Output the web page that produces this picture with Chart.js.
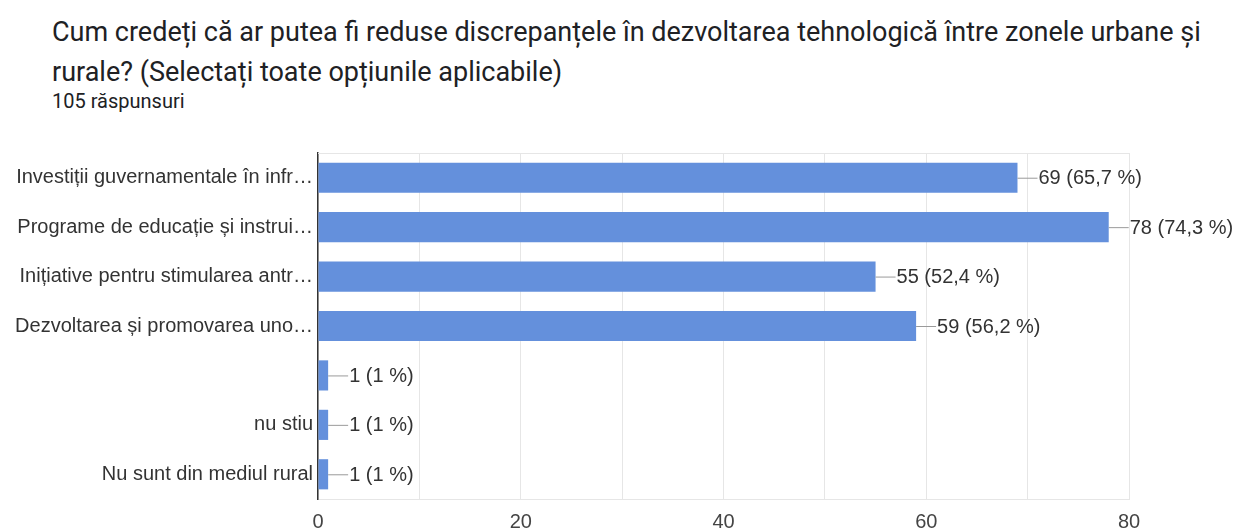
<!DOCTYPE html>
<html lang="ro">
<head>
<meta charset="utf-8">
<script src="https://cdn.jsdelivr.net/npm/chart.js@4.4.1/dist/chart.umd.min.js"></script>
<style>
  html, body { margin: 0; padding: 0; background: #fff; }
  #wrap { position: relative; width: 1235px; height: 529px; overflow: hidden; }
  #title {
    position: absolute; left: 52px; top: 12px; width: 1180px; white-space: nowrap;
    font-family: Roboto, "Noto Sans", sans-serif; font-size: 27px; line-height: 40px;
    color: #202124; margin: 0; font-weight: 400;
  }
  #sub {
    position: absolute; left: 52px; top: 89px;
    font-family: Roboto, "Noto Sans", sans-serif; font-size: 20px; color: #202124;
  }
  canvas { position: absolute; left: 0; top: 0; }
</style>
</head>
<body>
<div id="wrap">
  <h1 id="title">Cum credeți că ar putea fi reduse discrepanțele în dezvoltarea tehnologică între zonele urbane și<br>rurale? (Selectați toate opțiunile aplicabile)</h1>
  <div id="sub">105 răspunsuri</div>
  <canvas id="c" width="1235" height="529"></canvas>
</div>
<script>
// Answer options (long ones are shown shortened, as on the form summary)
const categories = [
  "Investiții guvernamentale în infr…",
  "Programe de educație și instrui…",
  "Inițiative pentru stimularea antr…",
  "Dezvoltarea și promovarea uno…",
  "",
  "nu stiu",
  "Nu sunt din mediul rural"
];
// Number of respondents choosing each option
const counts = [69, 78, 55, 59, 1, 1, 1];
// Share of the 105 respondents, as printed next to each bar
const percents = ["65,7", "74,3", "52,4", "56,2", "1", "1", "1"];
// Axis ticks
const xTicks = [0, 20, 40, 60, 80];

const LABEL_FONT = "Arial, 'Liberation Sans', sans-serif";

// Leader line + "count (pct %)" text at the end of every bar
const valueLabels = {
  id: 'valueLabels',
  afterDatasetsDraw(chart) {
    const ctx = chart.ctx;
    const meta = chart.getDatasetMeta(0);
    ctx.save();
    ctx.font = "20px " + LABEL_FONT;
    ctx.textBaseline = 'middle';
    ctx.textAlign = 'left';
    meta.data.forEach((bar, i) => {
      const x = bar.x, y = bar.y;
      ctx.strokeStyle = '#9a9a9a';
      ctx.lineWidth = 1;
      ctx.beginPath();
      ctx.moveTo(x, y + 0.5);
      ctx.lineTo(x + 20, y + 0.5);
      ctx.stroke();
      ctx.fillStyle = '#333333';
      ctx.fillText(counts[i] + ' (' + percents[i] + ' %)', x + 21, y + 1);
    });
    ctx.restore();
  }
};

// Thin frame line along the top of the plot area
const topFrame = {
  id: 'topFrame',
  beforeDatasetsDraw(chart) {
    const { ctx, chartArea: a } = chart;
    ctx.save();
    ctx.strokeStyle = '#e6e6e6';
    ctx.lineWidth = 1;
    ctx.beginPath();
    ctx.moveTo(a.left, a.top + 0.5);
    ctx.lineTo(a.right, a.top + 0.5);
    ctx.stroke();
    ctx.restore();
  }
};

new Chart(document.getElementById('c'), {
  type: 'bar',
  data: {
    labels: categories,
    datasets: [{
      data: counts,
      backgroundColor: '#6490dc',
      borderWidth: 0,
      categoryPercentage: 1,
      barPercentage: 0.61
    }]
  },
  options: {
    indexAxis: 'y',
    responsive: false,
    animation: false,
    events: [],
    layout: { padding: { left: 8, right: 106, top: 153, bottom: 0 } },
    plugins: { legend: { display: false }, tooltip: { enabled: false } },
    scales: {
      x: {
        min: 0, max: 80,
        ticks: {
          stepSize: 10,
          padding: 11,
          color: '#444444',
          font: { family: LABEL_FONT, size: 20 },
          maxRotation: 0,
          autoSkip: false,
          callback: (v) => xTicks.includes(v) ? String(v) : ''
        },
        grid: { color: '#e6e6e6', lineWidth: 1, drawTicks: false },
        border: { color: '#e6e6e6' },
        afterFit(scale) { scale.height = 30; }
      },
      y: {
        ticks: {
          padding: 5,
          color: '#333333',
          font: { family: LABEL_FONT, size: 20 }
        },
        grid: { display: false, drawTicks: false },
        border: { display: true, color: '#333333', width: 1.5 },
        afterFit(scale) { scale.width = 310; }
      }
    }
  },
  plugins: [valueLabels, topFrame]
});
</script>
</body>
</html>
